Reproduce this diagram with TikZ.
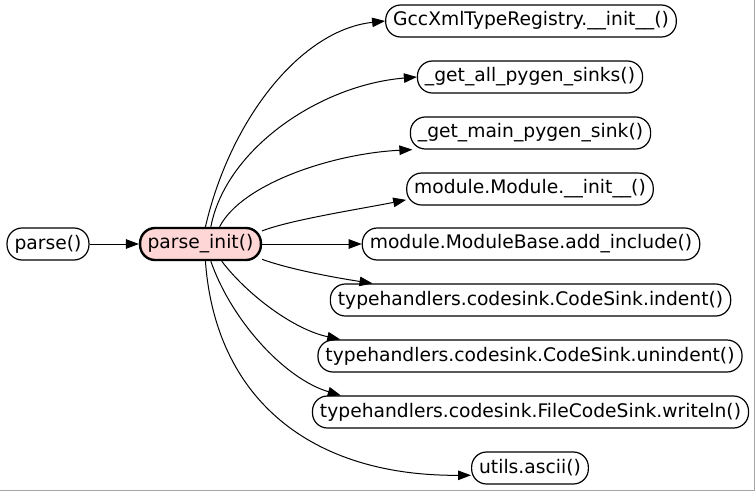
\documentclass[tikz,border=0pt]{standalone}
\usepackage{fontspec}
\setmainfont{DejaVu Sans}
\usetikzlibrary{arrows.meta,shapes,positioning}
\definecolor{mypink}{RGB}{255,214,214}
\definecolor{myframe}{RGB}{165,165,165}

\begin{document}
\begin{tikzpicture}[x=1pt,y=1pt,
  fnode/.style={rectangle,rounded corners=15pt,draw,line width=1.2pt,
               minimum height=32pt,inner xsep=7.5pt,inner ysep=0pt,
               font=\fontsize{18.7}{22}\selectfont},
  call/.style={-{Triangle[length=13pt,width=9.5pt]},line width=1pt}]
\useasboundingbox (0,0) rectangle (755,-491);
\draw[myframe,line width=1.2pt] (754.4,0)--(754.4,-490.4)--(0,-490.4);
\node[fnode]                            (parse) at (48,-244)    {parse()};
\node[fnode,fill=mypink,line width=2.4pt] (pinit) at (200.5,-244) {parse\_init()};
\node[fnode] (gcc)     at (531,-21)   {GccXmlTypeRegistry.\_\_init\_\_()};
\node[fnode] (allsink) at (530,-77)   {\_get\_all\_pygen\_sinks()};
\node[fnode] (mainsink) at (530.5,-133) {\_get\_main\_pygen\_sink()};
\node[fnode] (modinit) at (530,-189)  {module.Module.\_\_init\_\_()};
\node[fnode] (addinc)  at (531,-244)  {module.ModuleBase.add\_include()};
\node[fnode] (indent)  at (530.5,-300) {typehandlers.codesink.CodeSink.indent()};
\node[fnode] (unindent) at (530,-356) {typehandlers.codesink.CodeSink.unindent()};
\node[fnode] (writeln) at (530.5,-412) {typehandlers.codesink.FileCodeSink.writeln()};
\node[fnode] (ascii)   at (530,-468)  {utils.ascii()};
\draw[call] (parse.east)--(pinit.west);
\draw[call] (pinit.74)  .. controls +(25,108) and +(-84,-9) .. (gcc.west);
\draw[call] (pinit.59)  .. controls +(15,78) and +(-97,-8) .. (allsink.west);
\draw[call] (pinit.42)  .. controls +(22,43) and +(-80,-4) .. (mainsink.188);
\draw[call] (pinit.12)  .. controls +(28,11) and +(-45,-9) .. (modinit.185);
\draw[call] (pinit.east)--(addinc.west);
\draw[call] (pinit.-14) .. controls +(28,-10) and +(-39,6) .. (indent.174);
\draw[call] (pinit.-39) .. controls +(25,-33) and +(-47,10) .. (unindent.175);
\draw[call] (pinit.-59) .. controls +(20,-58) and +(-57,17) .. (writeln.175.3);
\draw[call] (pinit.-74) .. controls +(10,-138) and +(-160,-1) .. (ascii.187);
\end{tikzpicture}
\end{document}
